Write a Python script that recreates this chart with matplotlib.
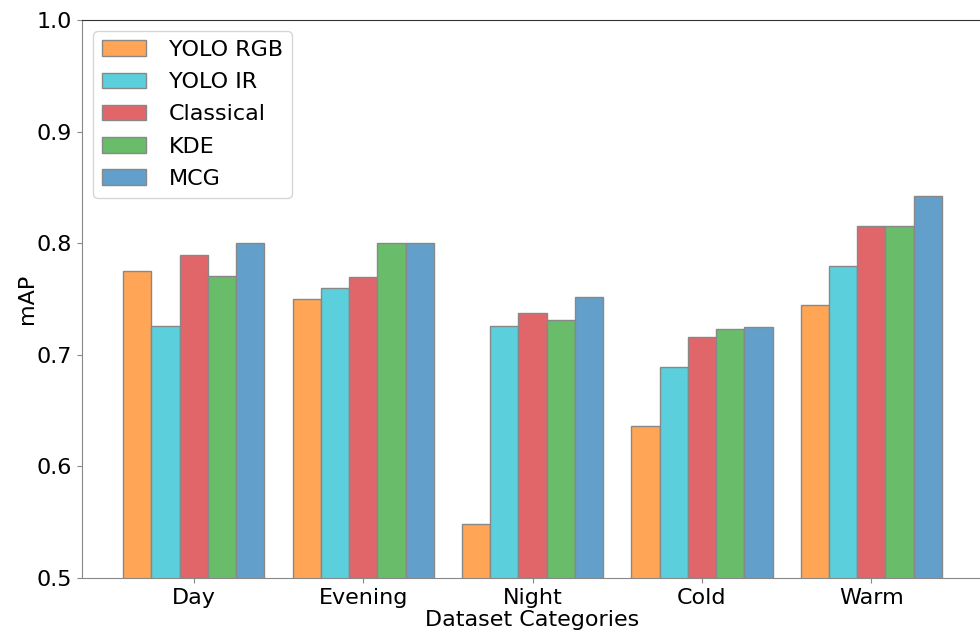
import numpy as np
import matplotlib
matplotlib.use("Agg")
import matplotlib.pyplot as plt

categories = ["Day", "Evening", "Night", "Cold", "Warm"]
methods = ["YOLO RGB", "YOLO IR", "Classical", "KDE", "MCG"]

yolo_rgb = [0.775, 0.750, 0.548, 0.636, 0.745]
yolo_ir = [0.726, 0.760, 0.726, 0.689, 0.780]
classical = [0.789, 0.770, 0.737, 0.716, 0.815]
kde = [0.771, 0.800, 0.731, 0.723, 0.815]
mcg = [0.800, 0.800, 0.752, 0.725, 0.842]

series = [yolo_rgb, yolo_ir, classical, kde, mcg]
colors = ["#FFA555", "#5BCFDC", "#E0666A", "#69BC6A", "#62A0CB"]

fig = plt.figure(figsize=(9.8, 6.35), dpi=100)
ax = fig.add_axes([0.0837, 0.0898, 0.9195, 0.8787])

x = np.arange(len(categories))
width = 1 / 6
for i, (vals, name, c) in enumerate(zip(series, methods, colors)):
    ax.bar(x + (i - 2) * width, vals, width, color=c, edgecolor="#888888",
           linewidth=1.0, label=name)

ax.set_xlim(-0.66, 4.66)
ax.set_ylim(0.5, 1.0)
ax.set_yticks(np.arange(0.5, 1.01, 0.1))
ax.set_xticks(x)
ax.set_xticklabels(categories)
ax.tick_params(axis="both", labelsize=16, color="#888888")
ax.set_ylabel("mAP", fontsize=16, labelpad=0)
ax.set_xlabel("Dataset Categories", fontsize=16, labelpad=1.5)

for s in ["left", "bottom", "right"]:
    ax.spines[s].set_color("#888888")
ax.spines["top"].set_color("#333333")

ax.legend(loc="upper left", fontsize=16, handlelength=2.0, handletextpad=1.0,
          labelspacing=0.55)

fig.savefig("out.png", dpi=100)
